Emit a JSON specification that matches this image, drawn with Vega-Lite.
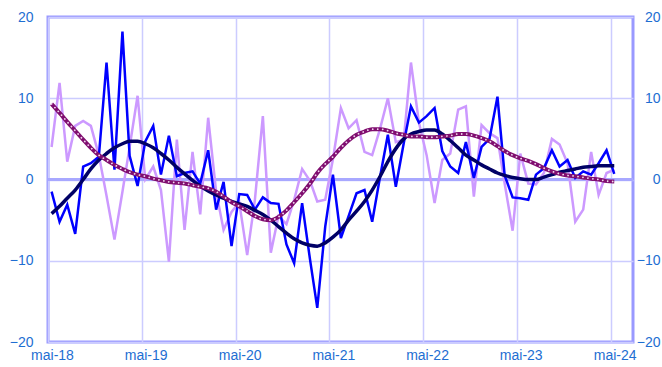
{
  "$schema": "https://vega.github.io/schema/vega-lite/v6.json",
  "width": 585,
  "height": 325,
  "autosize": {"type": "none"},
  "padding": {"left": 48, "top": 17, "right": 29, "bottom": 25},
  "background": "white",
  "config": {
    "view": {"stroke": "#9999FF", "strokeWidth": 3},
    "font": "Liberation Sans",
    "axis": {"labelFont": "Liberation Sans", "labelFontSize": 14, "labelColor": "#1E6ED2", "ticks": false, "domain": false, "gridColor": "#CCCCFF", "gridWidth": 1.5, "title": null}
  },
  "data": {"values": [
    {"d":"2018-05-15","bleu":-1.5,"lav":4.0,"marine":-4.2,"violet":9.3},
    {"d":"2018-06-15","bleu":-5.2,"lav":11.9,"marine":-3.3,"violet":8.2},
    {"d":"2018-07-15","bleu":-3.1,"lav":2.2,"marine":-2.3,"violet":7.1},
    {"d":"2018-08-15","bleu":-6.7,"lav":6.6,"marine":-1.3,"violet":6.0},
    {"d":"2018-09-15","bleu":1.6,"lav":7.2,"marine":0.0,"violet":4.9},
    {"d":"2018-10-15","bleu":2.0,"lav":6.6,"marine":1.3,"violet":3.9},
    {"d":"2018-11-15","bleu":2.8,"lav":3.0,"marine":2.4,"violet":3.0},
    {"d":"2018-12-15","bleu":14.4,"lav":-2.0,"marine":3.2,"violet":2.4},
    {"d":"2019-01-15","bleu":1.2,"lav":-7.4,"marine":3.9,"violet":1.8},
    {"d":"2019-02-15","bleu":18.2,"lav":-1.5,"marine":4.4,"violet":1.3},
    {"d":"2019-03-15","bleu":2.9,"lav":4.0,"marine":4.7,"violet":0.9},
    {"d":"2019-04-15","bleu":-0.8,"lav":10.3,"marine":4.7,"violet":0.6},
    {"d":"2019-05-15","bleu":4.7,"lav":0.0,"marine":4.4,"violet":0.4},
    {"d":"2019-06-15","bleu":6.6,"lav":1.6,"marine":3.9,"violet":0.1},
    {"d":"2019-07-15","bleu":0.6,"lav":-1.3,"marine":3.2,"violet":-0.1},
    {"d":"2019-08-15","bleu":5.4,"lav":-10.1,"marine":2.4,"violet":-0.3},
    {"d":"2019-09-15","bleu":0.4,"lav":4.9,"marine":1.5,"violet":-0.4},
    {"d":"2019-10-15","bleu":0.8,"lav":-6.2,"marine":0.7,"violet":-0.5},
    {"d":"2019-11-15","bleu":1.0,"lav":3.4,"marine":-0.1,"violet":-0.7},
    {"d":"2019-12-15","bleu":-0.5,"lav":-4.3,"marine":-0.8,"violet":-0.9},
    {"d":"2020-01-15","bleu":3.6,"lav":7.6,"marine":-1.4,"violet":-1.1},
    {"d":"2020-02-15","bleu":-3.7,"lav":-1.5,"marine":-1.9,"violet":-1.5},
    {"d":"2020-03-15","bleu":-0.3,"lav":-6.2,"marine":-2.3,"violet":-2.1},
    {"d":"2020-04-15","bleu":-8.2,"lav":-4.0,"marine":-2.7,"violet":-2.8},
    {"d":"2020-05-15","bleu":-1.8,"lav":-2.8,"marine":-3.0,"violet":-3.3},
    {"d":"2020-06-15","bleu":-1.9,"lav":-9.3,"marine":-3.3,"violet":-3.9},
    {"d":"2020-07-15","bleu":-3.7,"lav":-2.5,"marine":-3.8,"violet":-4.5},
    {"d":"2020-08-15","bleu":-2.2,"lav":7.8,"marine":-4.3,"violet":-4.9},
    {"d":"2020-09-15","bleu":-2.9,"lav":-9.0,"marine":-5.0,"violet":-5.0},
    {"d":"2020-10-15","bleu":-3.0,"lav":-4.5,"marine":-5.8,"violet":-4.6},
    {"d":"2020-11-15","bleu":-8.0,"lav":-5.5,"marine":-6.6,"violet":-3.8},
    {"d":"2020-12-15","bleu":-10.3,"lav":-2.5,"marine":-7.3,"violet":-2.8},
    {"d":"2021-01-15","bleu":-2.9,"lav":1.3,"marine":-7.8,"violet":-1.7},
    {"d":"2021-02-15","bleu":-9.9,"lav":-0.2,"marine":-8.1,"violet":-0.5},
    {"d":"2021-03-15","bleu":-15.8,"lav":-2.7,"marine":-8.2,"violet":0.8},
    {"d":"2021-04-15","bleu":-5.8,"lav":-2.5,"marine":-7.8,"violet":1.9},
    {"d":"2021-05-15","bleu":0.6,"lav":2.5,"marine":-7.1,"violet":2.8},
    {"d":"2021-06-15","bleu":-7.2,"lav":8.8,"marine":-6.2,"violet":3.9},
    {"d":"2021-07-15","bleu":-4.5,"lav":6.3,"marine":-5.0,"violet":4.8},
    {"d":"2021-08-15","bleu":-1.7,"lav":7.3,"marine":-3.9,"violet":5.5},
    {"d":"2021-09-15","bleu":-1.3,"lav":3.4,"marine":-2.7,"violet":5.9},
    {"d":"2021-10-15","bleu":-5.2,"lav":3.0,"marine":-1.3,"violet":6.2},
    {"d":"2021-11-15","bleu":0.4,"lav":6.3,"marine":0.4,"violet":6.2},
    {"d":"2021-12-15","bleu":5.5,"lav":10.0,"marine":2.2,"violet":6.0},
    {"d":"2022-01-15","bleu":-0.9,"lav":4.6,"marine":3.8,"violet":5.7},
    {"d":"2022-02-15","bleu":4.5,"lav":4.9,"marine":5.0,"violet":5.5},
    {"d":"2022-03-15","bleu":9.0,"lav":14.4,"marine":5.6,"violet":5.3},
    {"d":"2022-04-15","bleu":7.0,"lav":7.0,"marine":5.9,"violet":5.3},
    {"d":"2022-05-15","bleu":7.8,"lav":3.0,"marine":6.1,"violet":5.2},
    {"d":"2022-06-15","bleu":8.8,"lav":-2.9,"marine":6.1,"violet":5.2},
    {"d":"2022-07-15","bleu":3.5,"lav":2.4,"marine":5.6,"violet":5.3},
    {"d":"2022-08-15","bleu":1.6,"lav":3.2,"marine":4.8,"violet":5.4},
    {"d":"2022-09-15","bleu":0.8,"lav":8.6,"marine":3.9,"violet":5.6},
    {"d":"2022-10-15","bleu":4.6,"lav":9.0,"marine":3.0,"violet":5.6},
    {"d":"2022-11-15","bleu":0.2,"lav":-2.1,"marine":2.4,"violet":5.4},
    {"d":"2022-12-15","bleu":4.0,"lav":6.7,"marine":1.8,"violet":5.1},
    {"d":"2023-01-15","bleu":5.0,"lav":5.7,"marine":1.3,"violet":4.7},
    {"d":"2023-02-15","bleu":10.2,"lav":5.1,"marine":0.8,"violet":4.1},
    {"d":"2023-03-15","bleu":0.5,"lav":-0.5,"marine":0.5,"violet":3.5},
    {"d":"2023-04-15","bleu":-2.2,"lav":-6.3,"marine":0.25,"violet":3.0},
    {"d":"2023-05-15","bleu":-2.3,"lav":3.2,"marine":0.1,"violet":2.6},
    {"d":"2023-06-15","bleu":-2.5,"lav":-0.5,"marine":0.0,"violet":2.3},
    {"d":"2023-07-15","bleu":0.6,"lav":-0.6,"marine":0.0,"violet":1.9},
    {"d":"2023-08-15","bleu":1.4,"lav":0.8,"marine":0.3,"violet":1.4},
    {"d":"2023-09-15","bleu":3.6,"lav":5.0,"marine":0.6,"violet":1.0},
    {"d":"2023-10-15","bleu":1.6,"lav":4.3,"marine":0.9,"violet":0.7},
    {"d":"2023-11-15","bleu":2.4,"lav":2.0,"marine":1.1,"violet":0.5},
    {"d":"2023-12-15","bleu":0.2,"lav":-5.2,"marine":1.3,"violet":0.4},
    {"d":"2024-01-15","bleu":1.0,"lav":-3.7,"marine":1.5,"violet":0.25},
    {"d":"2024-02-15","bleu":0.6,"lav":3.4,"marine":1.6,"violet":0.1},
    {"d":"2024-03-15","bleu":2.0,"lav":-1.9,"marine":1.7,"violet":0.0},
    {"d":"2024-04-15","bleu":3.6,"lav":0.8,"marine":1.7,"violet":-0.2},
    {"d":"2024-05-15","bleu":0.7,"lav":1.2,"marine":1.7,"violet":-0.25}
  ]},
  "layer": [
    {
      "mark": {"type": "rule", "color": "#A8A8FF", "strokeWidth": 2},
      "encoding": {"y": {"datum": 0, "type": "quantitative", "scale": {"domain": [-20, 20], "nice": false}, "axis": null}}
    },
    {
      "mark": {"type": "line", "color": "#CC99FF", "strokeWidth": 2.5},
      "encoding": {
        "x": {"field": "d", "type": "temporal", "scale": {"type": "utc", "domain": [{"year": 2018, "month": 5, "date": 1, "utc": true}, {"year": 2024, "month": 7, "date": 27, "utc": true}]},
          "axis": {"values": [{"year": 2018, "month": 5, "date": 1, "utc": true}, {"year": 2019, "month": 5, "date": 1, "utc": true}, {"year": 2020, "month": 5, "date": 1, "utc": true}, {"year": 2021, "month": 5, "date": 1, "utc": true}, {"year": 2022, "month": 5, "date": 1, "utc": true}, {"year": 2023, "month": 5, "date": 1, "utc": true}, {"year": 2024, "month": 5, "date": 1, "utc": true}],
            "labelExpr": "'mai-' + utcFormat(datum.value, '%y')", "grid": true, "labelPadding": 6, "labelOffset": 4, "labelFlush": false, "labelOverlap": false}},
        "y": {"field": "lav", "type": "quantitative", "scale": {"domain": [-20, 20], "nice": false},
          "axis": {"orient": "left", "values": [-20, -10, 0, 10, 20], "grid": true, "labelPadding": 15}}
      }
    },
    {
      "mark": {"type": "line", "color": "#0000FF", "strokeWidth": 2.5},
      "encoding": {
        "x": {"field": "d", "type": "temporal"},
        "y": {"field": "bleu", "type": "quantitative", "scale": {"domain": [-20, 20], "nice": false}, "axis": null}
      }
    },
    {
      "mark": {"type": "line", "color": "#000066", "strokeWidth": 3.5, "interpolate": "monotone"},
      "encoding": {
        "x": {"field": "d", "type": "temporal"},
        "y": {"field": "marine", "type": "quantitative", "scale": {"domain": [-20, 20], "nice": false}, "axis": null}
      }
    },
    {
      "mark": {"type": "line", "color": "#800E70", "strokeWidth": 4, "interpolate": "monotone"},
      "encoding": {
        "x": {"field": "d", "type": "temporal"},
        "y": {"field": "violet", "type": "quantitative", "scale": {"domain": [-20, 20], "nice": false}, "axis": null}
      }
    },
    {
      "mark": {"type": "line", "color": "#F0D8EE", "strokeWidth": 1.8, "strokeDash": [0.01, 5], "strokeCap": "round", "interpolate": "monotone"},
      "encoding": {
        "x": {"field": "d", "type": "temporal"},
        "y": {"field": "violet", "type": "quantitative", "scale": {"domain": [-20, 20], "nice": false},
          "axis": {"orient": "right", "values": [-20, -10, 0, 10, 20], "grid": false, "labelAlign": "right", "labelPadding": 27}}
      }
    }
  ],
  "resolve": {"axis": {"y": "independent"}}
}
